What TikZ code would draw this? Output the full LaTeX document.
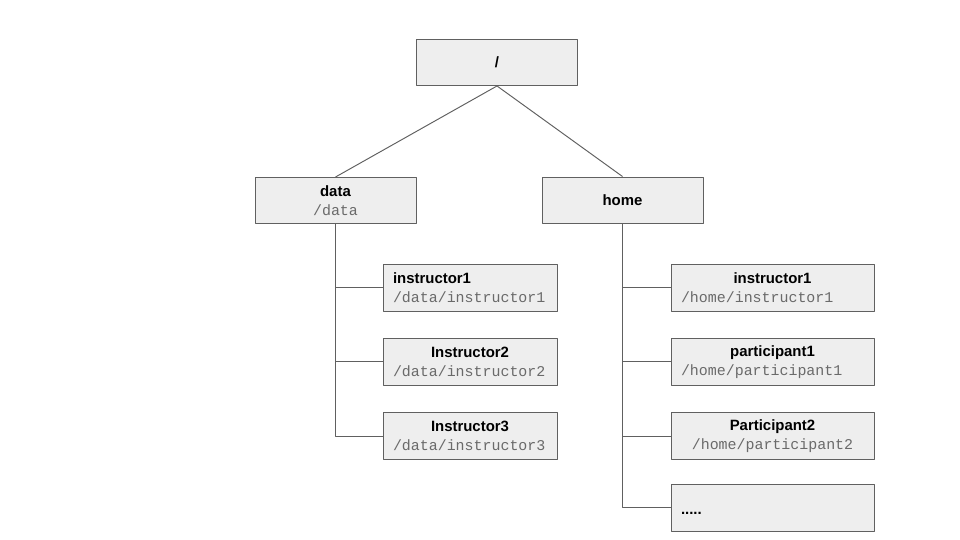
\documentclass[tikz,border=0pt]{standalone}
\usepackage{fontspec}
\setmainfont{Liberation Sans}
\setmonofont{Liberation Mono}
\definecolor{boxgray}{HTML}{EEEEEE}
\definecolor{linegray}{HTML}{606060}
\definecolor{pathgray}{HTML}{6A6A6A}
\newcommand{\nm}[1]{\textbf{#1}}
\newcommand{\pth}[1]{{\color{pathgray}\ttfamily #1}}
\newcommand{\ctr}[1]{\makebox[\hsize]{#1}}
\tikzset{
  dir/.style={draw=linegray,fill=boxgray,line width=0.55pt,inner sep=0pt,minimum width=3.22cm,minimum height=0.92cm,align=center},
  leaf/.style={dir,minimum width=3.48cm,minimum height=0.94cm,text width=3.08cm,align=left},
  wleaf/.style={leaf,minimum width=4.06cm,text width=3.66cm},
  link/.style={draw=linegray,line width=0.55pt}
}
\begin{document}
\begin{tikzpicture}[x=0.02cm,y=-0.02cm,line join=round,font=\fontsize{8.5}{10.8}\selectfont]
    \useasboundingbox (0,0) rectangle (960,540);
    \node[dir] (root) at (497,62.5) {\nm{/}};
    \node[dir] (data) at (335.5,200.5) {\nm{data}\\\pth{/data}};
    \node[dir] (home) at (622.5,200) {\nm{home}};
    % data
    \node[leaf] (d1) at (470,287.5) {\nm{instructor1}\\\pth{/data/instructor1}};
    \node[leaf] (d2) at (470,361.75) {\ctr{\nm{Instructor2}}\\\pth{/data/instructor2}};
    \node[leaf] (d3) at (470,436) {\ctr{\nm{Instructor3}}\\\pth{/data/instructor3}};
    % home
    \node[wleaf] (h1) at (772.5,287.5) {\ctr{\nm{instructor1}}\\\pth{/home/instructor1}};
    \node[wleaf] (h2) at (772.5,361.75) {\ctr{\nm{participant1}}\\\pth{/home/participant1}};
    \node[wleaf] (h3) at (772.5,436) {\ctr{\nm{Participant2}}\\\ctr{\pth{/home/participant2}}};
    \node[wleaf] (h4) at (772.5,507.5) {\nm{\strut\lower1.8pt\hbox{.....}}};
    \draw[link] (root.south)--(data.north) (root.south)--(home.north);
    \foreach \i in {1,2,3}
    \draw[link] (data.south) |- (d\i.west);
    \foreach \i in {1,2,3,4}
    \draw[link] (home.south) |- (h\i.west);
\end{tikzpicture}
\end{document}
